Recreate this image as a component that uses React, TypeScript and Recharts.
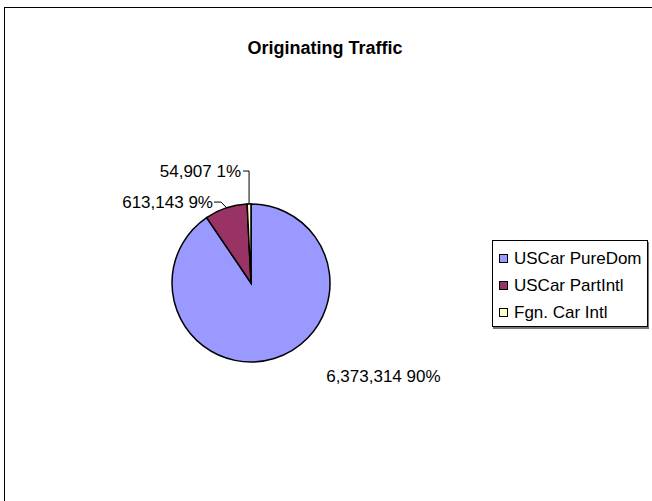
import React from 'react';
import { PieChart, Pie, Cell, Legend } from 'recharts';

const categories = ['USCar PureDom', 'USCar PartIntl', 'Fgn. Car Intl'];
const values = [6373314, 613143, 54907];
const percentLabels = ['90%', '9%', '1%'];
const colors = ['#9999FF', '#993366', '#FFFFCC'];

const data = categories.map((name, i) => ({ name, value: values[i], pct: percentLabels[i] }));

const FONT = 'Arial, "Liberation Sans", sans-serif';
const RAD = Math.PI / 180;
const LABEL_SIZE = 17;

const renderLabel = (props: any) => {
  const { cx, cy, midAngle, outerRadius, index } = props;
  const ex = cx + outerRadius * Math.cos(-midAngle * RAD);
  const ey = cy + outerRadius * Math.sin(-midAngle * RAD);
  const text = `${values[index].toLocaleString('en-US')} ${percentLabels[index]}`;
  if (index === 0) {
    return (
      <text x={ex + 52} y={ey + 18} fontFamily={FONT} fontSize={LABEL_SIZE} fill="#000" dominantBaseline="central">
        {text}
      </text>
    );
  }
  if (index === 1) {
    const tx = ex - 10;
    const ty = ey - 6;
    return (
      <g>
        <polyline points={`${tx - 2},${ty} ${tx + 5},${ty} ${ex},${ey - 1}`} fill="none" stroke="#000" strokeWidth={1} />
        <text x={tx - 3} y={ty} fontFamily={FONT} fontSize={LABEL_SIZE} fill="#000" textAnchor="end" dominantBaseline="central">
          {text}
        </text>
      </g>
    );
  }
  const tx = ex - 6;
  const ty = ey - 33;
  return (
    <g>
      <polyline points={`${tx},${ty} ${ex},${ty} ${ex},${ey}`} fill="none" stroke="#000" strokeWidth={1} />
      <text x={tx - 2} y={ty} fontFamily={FONT} fontSize={LABEL_SIZE} fill="#000" textAnchor="end" dominantBaseline="central">
        {text}
      </text>
    </g>
  );
};

const LegendContent = () => (
  <div
    style={{
      border: '1px solid #000',
      boxShadow: '1px 2px 0 #777',
      background: '#fff',
      padding: '4px 0 0 6px',
      fontFamily: FONT,
      fontSize: LABEL_SIZE,
      width: 156,
      boxSizing: 'border-box',
    }}
  >
    {data.map((d, i) => (
      <div key={d.name} style={{ display: 'flex', alignItems: 'center', height: 27 }}>
        <span
          style={{
            display: 'inline-block',
            width: 7,
            height: 7,
            border: '1px solid #000',
            background: colors[i],
            marginRight: 6,
            flexShrink: 0,
          }}
        />
        <span style={{ whiteSpace: 'nowrap' }}>{d.name}</span>
      </div>
    ))}
  </div>
);

export default function App() {
  return (
    <div style={{ position: 'absolute', left: 0, top: 0, width: 652, height: 501, background: '#fff' }}>
      <div
        style={{
          position: 'absolute',
          left: 4,
          top: 7,
          width: 700,
          height: 600,
          borderLeft: '1px solid #000',
          borderTop: '1px solid #000',
        }}
      />
      <PieChart width={652} height={501} margin={{ top: 0, right: 0, bottom: 0, left: 0 }} style={{ position: 'absolute', left: 0, top: 0 }}>
        <text x={325} y={48} textAnchor="middle" dominantBaseline="central" fontFamily={FONT} fontSize={18} fontWeight="bold" fill="#000">
          Originating Traffic
        </text>
        <Pie
          data={data}
          dataKey="value"
          nameKey="name"
          cx={251}
          cy={283}
          outerRadius={79}
          startAngle={90}
          endAngle={-270}
          stroke="#000"
          strokeWidth={1.5}
          label={renderLabel}
          labelLine={false}
          isAnimationActive={false}
        >
          {data.map((d, i) => (
            <Cell key={d.name} fill={colors[i]} />
          ))}
        </Pie>
        <Legend
          content={<LegendContent />}
          layout="vertical"
          wrapperStyle={{ left: 492, top: 240, width: 156 }}
        />
      </PieChart>
    </div>
  );
}
